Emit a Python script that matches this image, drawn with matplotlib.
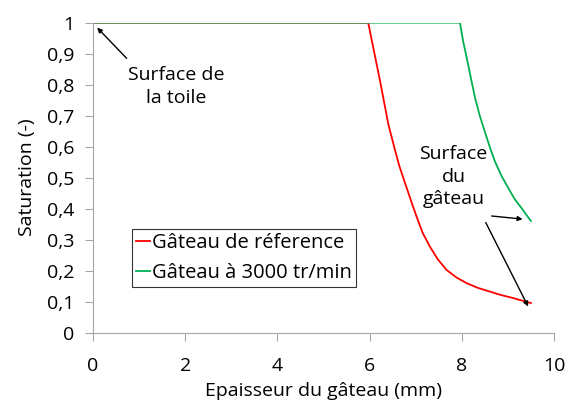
import matplotlib
matplotlib.use("Agg")
import matplotlib.pyplot as plt

plt.rcParams['font.family'] = ['Open Sans', 'DejaVu Sans']

ref_x = [0, 5.97, 6.10, 6.23, 6.32, 6.41, 6.55, 6.64, 6.77, 6.90, 7.02, 7.15, 7.31, 7.48, 7.67,
         7.88, 8.11, 8.35, 8.61, 8.85, 9.12, 9.50]
ref_y = [1, 1.0, 0.905, 0.81, 0.74, 0.67, 0.59, 0.54, 0.482, 0.425, 0.374, 0.322, 0.277, 0.236, 0.202,
         0.178, 0.159, 0.144, 0.132, 0.121, 0.111, 0.095]
g_x = [0, 7.96, 8.03, 8.11, 8.20, 8.29, 8.39, 8.50, 8.61, 8.72, 8.86, 9.01, 9.15, 9.30, 9.40, 9.50]
g_y = [1, 1.0, 0.94, 0.885, 0.82, 0.756, 0.70, 0.648, 0.598, 0.552, 0.506, 0.466, 0.43, 0.401, 0.38, 0.36]

xticks = [0, 2, 4, 6, 8, 10]
yticks = [0, 0.1, 0.2, 0.3, 0.4, 0.5, 0.6, 0.7, 0.8, 0.9, 1]
ylabels = ['0', '0,1', '0,2', '0,3', '0,4', '0,5', '0,6', '0,7', '0,8', '0,9', '1']

FS = 14

fig = plt.figure(figsize=(5.67, 4.05), dpi=100)
ax = fig.add_axes([0.164, 0.179, 0.813, 0.765])
ax.plot(ref_x, ref_y, color='#FF0000', lw=1.3, label='Gâteau de réference', solid_joinstyle='round')
ax.plot(g_x, g_y, color='#00B050', lw=1.3, label='Gâteau à 3000 tr/min', solid_joinstyle='round')
ax.set_xlim(0, 10)
ax.set_ylim(0, 1)
ax.set_xticks(xticks)
ax.set_yticks(yticks)
ax.set_yticklabels(ylabels)
for s in ['top', 'right']:
    ax.spines[s].set_visible(False)
for s in ['left', 'bottom']:
    ax.spines[s].set_color('#A6A6A6')
ax.tick_params(colors='#A6A6A6', labelcolor='black', labelsize=FS, length=5.5, direction='out')
ax.tick_params(axis='y', pad=8)
ax.tick_params(axis='x', pad=12)
ax.set_xlabel('Epaisseur du gâteau (mm)', fontsize=FS, labelpad=5)
ax.set_ylabel('Saturation (-)', fontsize=FS, labelpad=8)

arrow = dict(arrowstyle='-|>', color='black', lw=1, shrinkA=0, shrinkB=0, mutation_scale=7)
ax.text(1.80, 0.794, 'Surface de\nla toile', ha='center', va='center', fontsize=FS, linespacing=1.3)
ax.annotate('', xy=(0.09, 0.984), xytext=(0.73, 0.885), arrowprops=arrow)
ax.text(7.82, 0.503, 'Surface\ndu\ngâteau', ha='center', va='center', fontsize=FS, linespacing=1.3)
ax.annotate('', xy=(9.32, 0.366), xytext=(8.65, 0.376), arrowprops=arrow)
ax.annotate('', xy=(9.44, 0.084), xytext=(8.52, 0.355), arrowprops=arrow)

leg = ax.legend(loc='upper left', bbox_to_anchor=(39 / 461, 1 - 206.6 / 310), fontsize=FS + 0.5,
                frameon=True, fancybox=False, handlelength=0.7, handletextpad=0.1,
                borderpad=0.2, labelspacing=0.5, borderaxespad=0)
leg.get_frame().set_edgecolor('black')
leg.get_frame().set_linewidth(0.8)

fig.savefig('out.png', dpi=100)
